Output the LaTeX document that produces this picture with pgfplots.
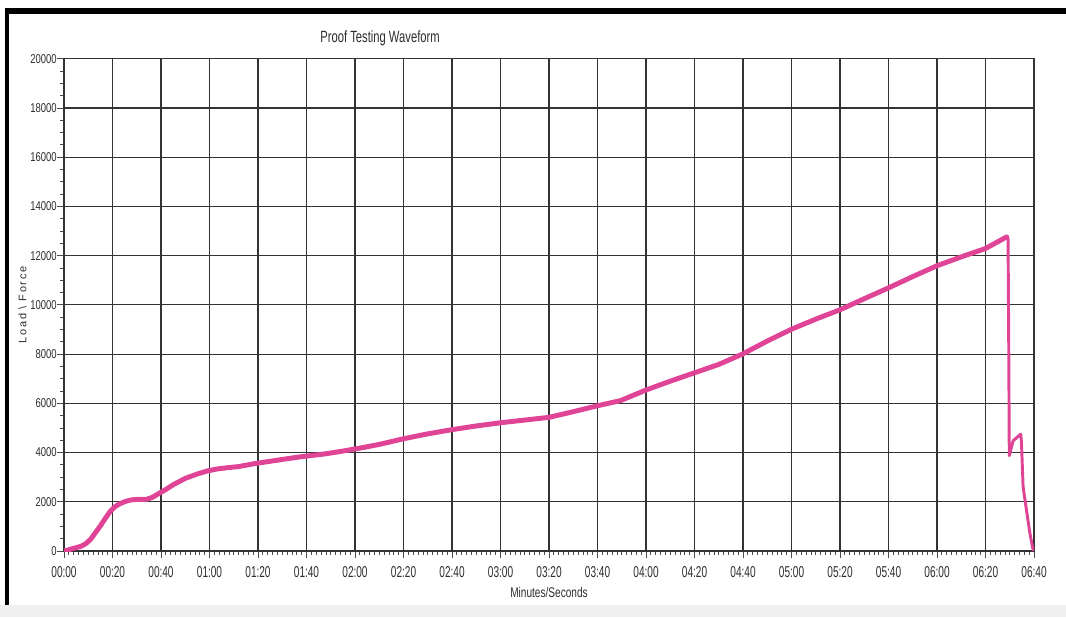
\documentclass[border=0pt]{standalone}
\usepackage{fontspec}
\setmainfont{Liberation Sans}
\newfontfamily\ytickfont{Liberation Sans}[FakeStretch=0.74]
\newfontfamily\xtickfont{Liberation Sans}[FakeStretch=0.64]
\newfontfamily\titlefont{Liberation Sans}[FakeStretch=0.69]
\newfontfamily\xlabelfont{Liberation Sans}[FakeStretch=0.72]
\newfontfamily\ylabelfont{Liberation Sans}[LetterSpace=15]
\usepackage{pgfplots}
\pgfplotsset{compat=1.18}
\definecolor{trace}{HTML}{E04496}
\definecolor{txt}{HTML}{2E2E2E}
\begin{document}
\begin{tikzpicture}
\useasboundingbox (0,0) rectangle (799.5pt,462.75pt);
\fill[white] (0,0) rectangle (799.5pt,462.75pt);
\fill[black!6] (0,0) rectangle (799.5pt,9pt);
\fill[black] (3.75pt,452.25pt) rectangle (799.5pt,456.75pt);
\fill[black] (3.75pt,9pt) rectangle (6.75pt,456.75pt);
\begin{axis}[
  at={(48pt,49.5pt)}, anchor=south west,
  scale only axis, width=727.5pt, height=369.2pt,
  xmin=0, xmax=400, ymin=0, ymax=20000,
  scaled y ticks=false, scaled x ticks=false,
  xtick={0,20,...,400},
  xticklabels={00:00,00:20,00:40,01:00,01:20,01:40,02:00,02:20,02:40,03:00,03:20,03:40,04:00,04:20,04:40,05:00,05:20,05:40,06:00,06:20,06:40},
  ytick={0,2000,...,20000},
  yticklabels={0,2000,4000,6000,8000,10000,12000,14000,16000,18000,20000},
  minor x tick num=9, minor y tick num=3,
  tick pos=left, tick align=outside,
  major tick length=5.25pt, minor tick length=3pt,
  tick style={black!70, line width=0.6pt},
  grid=major,
  major grid style={black!80, line width=0.85pt},
  axis line style={black!80, line width=0.85pt},
  xticklabel style={font=\xtickfont\fontsize{11.8}{12}\selectfont, text=txt, inner sep=0pt, anchor=north, yshift=-6pt},
  yticklabel style={font=\ytickfont\fontsize{9.6}{10}\selectfont, text=txt, inner sep=0pt, anchor=east},
  title={Proof Testing Waveform},
  title style={font=\titlefont\fontsize{12.2}{13}\selectfont, text=txt, at={(axis description cs:0.3258,1.0177)}, anchor=base, inner sep=0pt},
  xlabel={Minutes/Seconds},
  xlabel style={font=\xlabelfont\fontsize{10.5}{11}\selectfont, text=txt, at={(axis description cs:0.5,0)}, anchor=base, inner sep=0pt, yshift=-34.5pt},
  ylabel={Load \textbackslash{} Force},
  ylabel style={font=\ylabelfont\fontsize{8.25}{9}\selectfont, text=txt, at={(axis description cs:-0.0428,0.5)}, anchor=center, inner sep=0pt},
]
\addplot[color=trace, line width=3.7pt, line join=round, line cap=round] coordinates {
(0,0) (2,50) (4,110) (7,190) (9,300) (11,480) (13,750) (15,1020) (17,1320) (19,1600)
(21,1800) (23,1920) (25.5,2020) (28,2080) (31,2100) (34,2100) (36.5,2180) (38.5,2300)
(42,2500) (45,2690) (50,2950) (55,3130) (59,3250) (63,3330) (67,3380) (72,3430)
(78,3540) (84,3630) (90,3720) (97,3820) (103,3890) (108,3950) (115,4060) (122,4180)
(130,4330) (140,4560) (150,4760) (160,4930) (170,5080) (180,5210) (190,5320) (200,5430)
(210,5660) (220,5900) (229.5,6110) (240,6540) (250,6900) (260,7240) (270,7580) (280,8010)
(290,8530) (300,9010) (310,9420) (320,9800) (330,10250) (340,10690) (350,11150)
(360,11590) (370,11950) (380,12290) (388.7,12760)
};
\addplot[color=trace, line width=2.2pt, line join=round] coordinates {
(388.7,12760) (389.3,12700) (389.6,8000) (389.8,3870) (391.4,4480) (392.8,4600)
(394.5,4750) (394.8,4480) (395.5,2610) (396.9,1660) (398.3,720) (399.7,0)
};
\end{axis}
\end{tikzpicture}
\end{document}
